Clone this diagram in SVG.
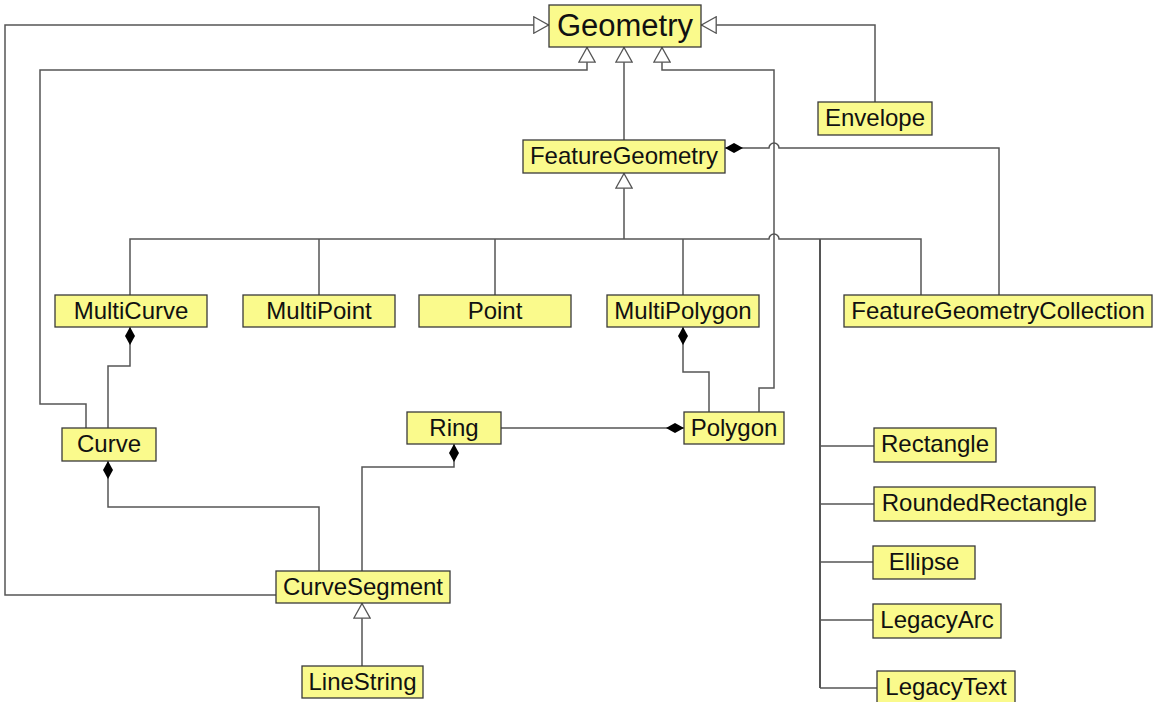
<svg xmlns="http://www.w3.org/2000/svg" width="1153" height="702" viewBox="0 0 1153 702">
  <style>
    .box { fill: #fafa8c; stroke: #3a3a3a; stroke-width: 1.3; }
    .lbl { font-family: "Liberation Sans", Arial, sans-serif; font-size: 24px; fill: #111; text-anchor: middle; }
    .big { font-size: 31px; }
    .wire { fill: none; stroke: #555; stroke-width: 1.5; }
    .gen { marker-end: url(#hollow); }
    .comp { marker-start: url(#diamond); }
  </style>
  <defs>
    <!-- generalization: hollow triangle at the parent end -->
    <marker id="hollow" markerUnits="userSpaceOnUse" viewBox="0 0 16 18" markerWidth="16" markerHeight="18" refX="16" refY="9" orient="auto">
      <path d="M0.8,0.8 L15.5,9 L0.8,17.2 Z" fill="#fff" stroke="#555" stroke-width="1.3"/>
    </marker>
    <!-- composition: filled diamond at the whole end -->
    <marker id="diamond" markerUnits="userSpaceOnUse" viewBox="0 0 18 10" markerWidth="18" markerHeight="10" refX="0" refY="5" orient="auto">
      <path d="M0,5 L9,0 L18,5 L9,10 Z" fill="#000"/>
    </marker>
  </defs>
  <rect width="1153" height="702" fill="#fff"/>

  <g id="connectors">
    <!-- inheritance to Geometry -->
    <path class="wire gen" d="M276,595 H5 V25 H549"/>
    <path class="wire gen" d="M875,102 V25 H701"/>
    <path class="wire gen" d="M86,428 V404 H40 V70 H587 V47"/>
    <path class="wire gen" d="M624,140 V47"/>
    <path class="wire gen" d="M759,412 V388 H774 V70 H662 V47"/>
    <!-- FeatureGeometry aggregated by FeatureGeometryCollection -->
    <path class="wire comp" d="M725,148 H769 A5,5 0 0 1 779,148 H999 V295"/>
    <!-- inheritance tree under FeatureGeometry -->
    <path class="wire gen" d="M624,239 V173"/>
    <path class="wire" d="M130,295 V239 H769 A5,5 0 0 1 779,239 H921 V295"/>
    <path class="wire" d="M319,295 V239"/>
    <path class="wire" d="M495,295 V239"/>
    <path class="wire" d="M683,295 V239"/>
    <path class="wire" d="M820,688 V239" style="stroke-width:2"/>
    <path class="wire" d="M874,446 H820"/>
    <path class="wire" d="M874,504 H820"/>
    <path class="wire" d="M873,562 H820"/>
    <path class="wire" d="M873,620 H820"/>
    <path class="wire" d="M877,688 H820"/>
    <!-- compositions -->
    <path class="wire comp" d="M130,327 V366 H108 V428"/>
    <path class="wire comp" d="M108,461 V507 H319 V571"/>
    <path class="wire comp" d="M454,444 V467 H362 V571"/>
    <path class="wire comp" d="M683,327 V372 H709 V412"/>
    <path class="wire comp" d="M684,428 H501"/>
    <!-- LineString is a CurveSegment -->
    <path class="wire gen" d="M362,666 V603"/>
  </g>

  <g id="Geometry"><rect class="box" x="549" y="5" width="152" height="42"/><text class="lbl big" x="625" y="36">Geometry</text></g>
  <g id="Envelope"><rect class="box" x="818" y="102" width="114" height="33"/><text class="lbl" x="875" y="126">Envelope</text></g>
  <g id="FeatureGeometry"><rect class="box" x="523" y="140" width="202" height="33"/><text class="lbl" x="624" y="164">FeatureGeometry</text></g>
  <g id="MultiCurve"><rect class="box" x="55" y="295" width="152" height="32"/><text class="lbl" x="131" y="319">MultiCurve</text></g>
  <g id="MultiPoint"><rect class="box" x="243" y="295" width="152" height="32"/><text class="lbl" x="319" y="319">MultiPoint</text></g>
  <g id="Point"><rect class="box" x="419" y="295" width="152" height="32"/><text class="lbl" x="495" y="319">Point</text></g>
  <g id="MultiPolygon"><rect class="box" x="607" y="295" width="152" height="32"/><text class="lbl" x="683" y="319">MultiPolygon</text></g>
  <g id="FeatureGeometryCollection"><rect class="box" x="844" y="295" width="308" height="32"/><text class="lbl" x="998" y="319">FeatureGeometryCollection</text></g>
  <g id="Curve"><rect class="box" x="62" y="428" width="94" height="33"/><text class="lbl" x="109" y="452">Curve</text></g>
  <g id="Ring"><rect class="box" x="407" y="412" width="94" height="32"/><text class="lbl" x="454" y="436">Ring</text></g>
  <g id="Polygon"><rect class="box" x="684" y="412" width="100" height="32"/><text class="lbl" x="734" y="436">Polygon</text></g>
  <g id="CurveSegment"><rect class="box" x="276" y="571" width="174" height="32"/><text class="lbl" x="363" y="595">CurveSegment</text></g>
  <g id="LineString"><rect class="box" x="302" y="666" width="121" height="32"/><text class="lbl" x="362.5" y="690">LineString</text></g>
  <g id="Rectangle"><rect class="box" x="874" y="428" width="122" height="34"/><text class="lbl" x="935" y="452">Rectangle</text></g>
  <g id="RoundedRectangle"><rect class="box" x="874" y="487" width="221" height="34"/><text class="lbl" x="984.5" y="511">RoundedRectangle</text></g>
  <g id="Ellipse"><rect class="box" x="873" y="546" width="102" height="33"/><text class="lbl" x="924" y="570">Ellipse</text></g>
  <g id="LegacyArc"><rect class="box" x="873" y="604" width="128" height="34"/><text class="lbl" x="937" y="628">LegacyArc</text></g>
  <g id="LegacyText"><rect class="box" x="877" y="671" width="138" height="34"/><text class="lbl" x="946" y="695">LegacyText</text></g>
</svg>
